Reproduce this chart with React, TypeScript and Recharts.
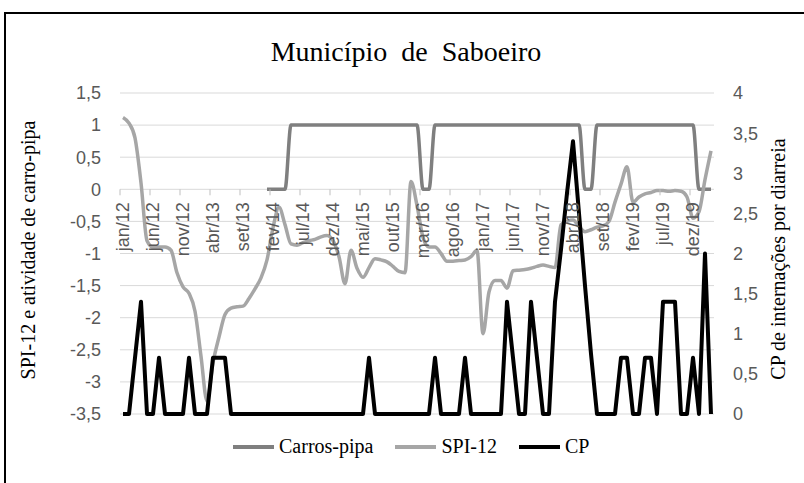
import { CartesianGrid, Line, LineChart, XAxis, YAxis } from 'recharts';

const W = 804;
const H = 483;
// plot box
const PLOT_LEFT = 120;
const PLOT_RIGHT = 714;
const PLOT_TOP = 93;
const PLOT_BOTTOM = 414;
const ZERO_Y = PLOT_TOP + (PLOT_BOTTOM - PLOT_TOP) * (1.5 / 5);

const monthNames = ['jan', 'fev', 'mar', 'abr', 'mai', 'jun', 'jul', 'ago', 'set', 'out', 'nov', 'dez'];
const years = ['12', '13', '14', '15', '16', '17', '18', '19', '20'];
const months = years.flatMap((y) => monthNames.map((m) => `${m}/${y}`)).slice(0, 99);

const leftTicks = [-3.5, -3, -2.5, -2, -1.5, -1, -0.5, 0, 0.5, 1, 1.5];
const rightTicks = [0, 0.5, 1, 1.5, 2, 2.5, 3, 3.5, 4];

// Carros-pipa (0 = sem, 1 = com atividade), starts jan/14
const carrosPipa: (number | null)[] = [
	null, null, null, null, null, null, null, null, null, null, null, null,
	null, null, null, null, null, null, null, null, null, null, null, null,
	0, 0, 0, 0, 1, 1, 1, 1, 1, 1, 1, 1,
	1, 1, 1, 1, 1, 1, 1, 1, 1, 1, 1, 1,
	1, 1, 0, 0, 1, 1, 1, 1, 1, 1, 1, 1,
	1, 1, 1, 1, 1, 1, 1, 1, 1, 1, 1, 1,
	1, 1, 1, 1, 1, 0, 0, 1, 1, 1, 1, 1,
	1, 1, 1, 1, 1, 1, 1, 1, 1, 1, 1, 1,
	0, 0, 0,
];

const spi12 = [
	1.12, 1.03, 0.8, 0.1, -0.8, -0.9, -0.9, -0.9, -0.95, -1.3, -1.52, -1.62,
	-1.9, -2.6, -3.3, -2.7, -2.3, -1.95, -1.85, -1.83, -1.82, -1.7, -1.55, -1.38,
	-1.1, -0.6, -0.28, -0.55, -0.85, -0.87, -0.83, -0.8, -0.78, -0.74, -0.72, -0.8,
	-1.05, -1.47, -0.95, -1.23, -1.37, -1.22, -1.08, -1.1, -1.13, -1.2, -1.28, -1.3,
	0.12, -0.25, -0.75, -0.9, -0.9, -1.0, -1.12, -1.12, -1.11, -1.1, -1.05, -0.95,
	-2.25, -1.6, -1.42, -1.42, -1.54, -1.27, -1.26, -1.25, -1.23, -1.2, -1.18, -1.2,
	-1.22, -0.55, -0.5, -0.48, -0.58, -0.66, -0.63, -0.59, -0.57, -0.5, -0.2, 0.08,
	0.35, -0.2, -0.12, -0.07, -0.05, -0.02, -0.02, -0.03, -0.02, -0.03, -0.12, -0.45,
	-0.35, 0.15, 0.6,
];

const cp = [
	0, 0, 0.7, 1.4, 0, 0, 0.7, 0, 0, 0, 0, 0.7,
	0, 0, 0, 0.7, 0.7, 0.7, 0, 0, 0, 0, 0, 0,
	0, 0, 0, 0, 0, 0, 0, 0, 0, 0, 0, 0,
	0, 0, 0, 0, 0, 0.7, 0, 0, 0, 0, 0, 0,
	0, 0, 0, 0, 0.7, 0, 0, 0, 0, 0.7, 0, 0,
	0, 0, 0, 0, 1.4, 0.7, 0, 0, 1.4, 0.7, 0, 0,
	1.4, 2.05, 2.75, 3.4, 2.5, 1.6, 0.75, 0, 0, 0, 0, 0.7,
	0.7, 0, 0, 0.7, 0.7, 0, 1.4, 1.4, 1.4, 0, 0, 0.7,
	0, 2.0, 0,
];

const data = months.map((m, i) => ({
	mes: m,
	carros: carrosPipa[i],
	spi: spi12[i],
	cp: cp[i],
}));

const comma = (v: number) => String(v).replace('.', ',');

const tickStyle = { fontSize: 18, fill: '#595959', fontFamily: 'Liberation Sans, Arial, sans-serif' };

const MonthTick = (props: any) => {
	const { x, payload } = props;
	const ty = ZERO_Y + 13;
	return (
		<g>
			<line x1={x - 3} x2={x - 3} y1={ZERO_Y} y2={ZERO_Y + 6} stroke="#bfbfbf" />
			<text
				x={x}
				y={ty}
				dy="0.35em"
				textAnchor="end"
				transform={`rotate(-90 ${x} ${ty})`}
				{...tickStyle}
			>
				{payload.value}
			</text>
		</g>
	);
};

const legendItems = [
	{ name: 'Carros-pipa', color: '#7f7f7f' },
	{ name: 'SPI-12', color: '#a6a6a6' },
	{ name: 'CP', color: '#000000' },
];

const serif = 'Liberation Serif, "Times New Roman", serif';

export default function App() {
	return (
		<div style={{ position: 'absolute', left: 0, top: 0, width: W, height: H, background: '#fff', overflow: 'hidden' }}>
			<div
				style={{
					position: 'absolute',
					left: 4,
					top: 12,
					width: 820,
					height: 500,
					border: '2px solid #000',
				}}
			/>
			<div style={{ position: 'absolute', left: 0, top: 0 }}>
				<LineChart
					width={W}
					height={H}
					data={data}
					margin={{ top: PLOT_TOP, right: W - PLOT_RIGHT - 50, bottom: H - PLOT_BOTTOM - 5, left: PLOT_LEFT - 60 }}
				>
					<CartesianGrid vertical={false} stroke="#d9d9d9" yAxisId="left" />
					<XAxis
						dataKey="mes"
						interval={4}
						height={5}
						padding={{ left: 3, right: 3 }}
						axisLine={false}
						tickLine={false}
						tick={<MonthTick />}
					/>
					<YAxis
						yAxisId="left"
						width={60}
						domain={[-3.5, 1.5]}
						ticks={leftTicks}
						tickFormatter={comma}
						axisLine={false}
						tickLine={false}
						tickMargin={13}
						tick={tickStyle}
						interval={0}
					/>
					<YAxis
						yAxisId="right"
						orientation="right"
						width={50}
						domain={[0, 4]}
						ticks={rightTicks}
						tickFormatter={comma}
						axisLine={false}
						tickLine={false}
						tickMargin={13}
						tick={{ ...tickStyle, textAnchor: 'start' }}
						interval={0}
					/>
					<Line
						yAxisId="left"
						type="monotone"
						dataKey="carros"
						stroke="#7f7f7f"
						strokeWidth={3.5}
						dot={false}
						isAnimationActive={false}
					/>
					<Line
						yAxisId="left"
						type="monotone"
						dataKey="spi"
						stroke="#a6a6a6"
						strokeWidth={3.5}
						dot={false}
						isAnimationActive={false}
					/>
					<Line
						yAxisId="right"
						type="linear"
						dataKey="cp"
						stroke="#000000"
						strokeWidth={4}
						strokeLinejoin="round"
						dot={false}
						isAnimationActive={false}
					/>
				</LineChart>
			</div>
			<svg width={W} height={H} style={{ position: 'absolute', left: 0, top: 0, pointerEvents: 'none' }}>
				<text x={406} y={61} textAnchor="middle" fontSize={28} fontFamily={serif} fill="#000" style={{ whiteSpace: 'pre' }}>
					{'Município  de  Saboeiro'}
				</text>
				<text
					x={28}
					y={250}
					textAnchor="middle"
					dy="0.35em"
					transform="rotate(-90 28 250)"
					fontSize={20}
					fontFamily={serif}
					fill="#000"
				>
					SPI-12 e atividade de carro-pipa
				</text>
				<text
					x={778}
					y={259}
					textAnchor="middle"
					dy="0.35em"
					transform="rotate(-90 778 259)"
					fontSize={20}
					fontFamily={serif}
					fill="#000"
				>
					CP de internações por diarreia
				</text>
			</svg>
			<div
				style={{
					position: 'absolute',
					left: 233,
					top: 435,
					display: 'flex',
					alignItems: 'center',
					fontFamily: serif,
					fontSize: 20,
					color: '#000',
				}}
			>
				{legendItems.map((it) => (
					<div key={it.name} style={{ display: 'flex', alignItems: 'center', marginRight: 22 }}>
						<div style={{ width: 41, height: 4, background: it.color, marginRight: 5 }} />
						<span>{it.name}</span>
					</div>
				))}
			</div>
		</div>
	);
}
